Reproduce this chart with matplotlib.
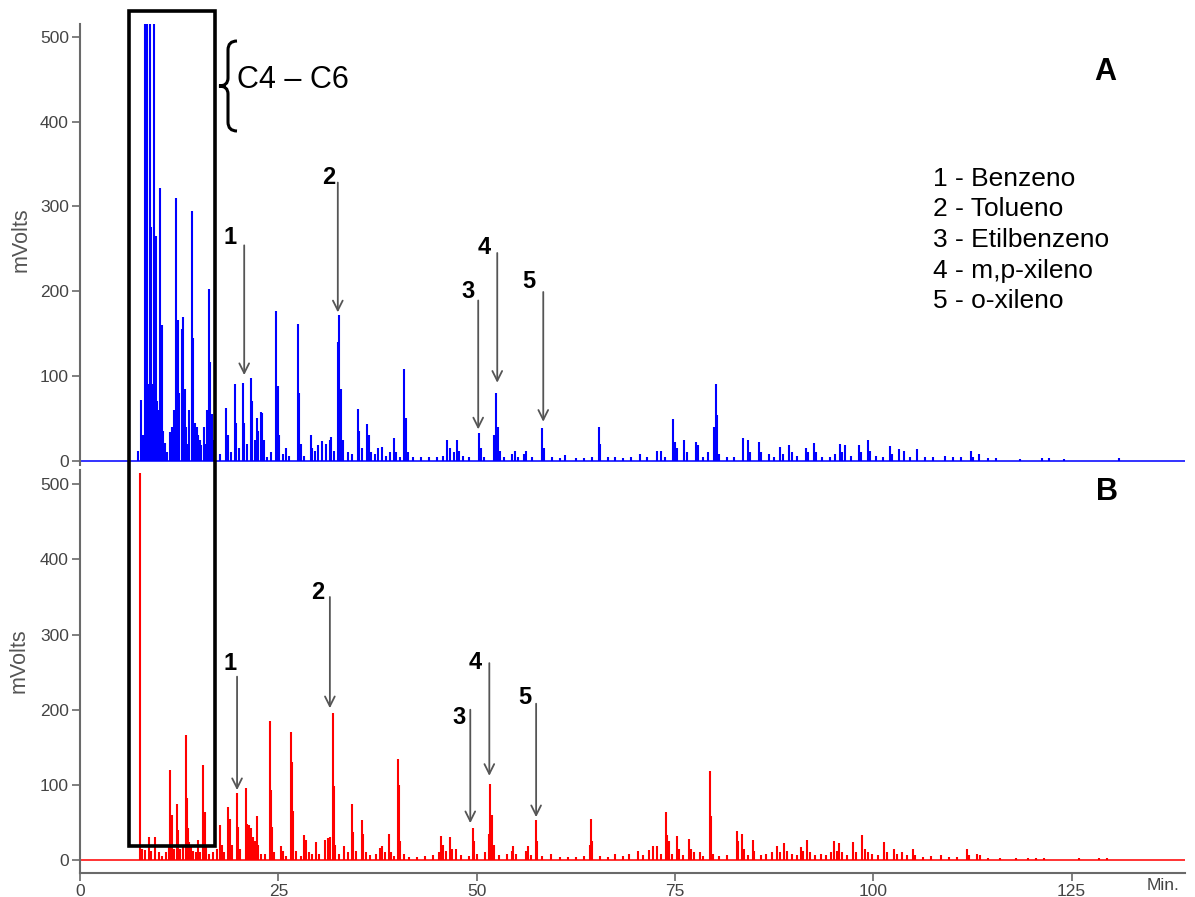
"""
Chromatogram of two samples (A, B) with marked BTEX peaks.
"""

import matplotlib
matplotlib.use("Agg")
import matplotlib.pyplot as plt
from matplotlib.patches import Rectangle, PathPatch
from matplotlib.path import Path

plt.rcParams["font.family"] = ["Liberation Sans", "DejaVu Sans"]

W, H = 1195, 897

# --- panel A peaks (retention time in min, height in mV) ---
A_TIMES = [7.3, 7.7, 7.9, 8.2, 8.3, 8.45, 8.6, 8.8, 8.9, 9.0, 9.15, 9.3, 9.4, 9.45,
           9.6, 9.75, 9.9, 10.1, 10.3, 10.5, 10.7, 11.0, 11.3, 11.6, 11.8, 12.1,
           12.3, 12.5, 12.8, 13.0, 13.2, 13.4, 13.6, 13.8, 14.1, 14.3, 14.5, 14.7,
           14.9, 15.1, 15.3, 15.6, 15.8, 16.0, 16.2, 16.4, 16.6, 16.8,
           17.6, 18.4, 18.6, 19.0, 19.5, 19.7, 20.0, 20.5, 20.7, 21.0, 21.5, 21.7,
           22.0, 22.3, 22.5, 22.8, 23.0, 23.2, 23.6, 24.1, 24.7, 24.9, 25.1, 25.6,
           26.0, 26.4, 27.45, 27.6, 27.8, 28.3, 29.1, 29.3, 29.6, 30.0, 30.5, 31.0,
           31.5, 31.7, 32.0, 32.5, 32.7, 32.9, 33.1, 33.8, 34.3, 35.0, 35.2, 35.5,
           36.2, 36.4, 36.7, 37.2, 37.6, 38.1, 38.6, 39.1, 39.6, 39.8, 40.3, 40.9,
           41.1, 41.4, 42.0, 43.0, 44.0, 45.0, 45.8, 46.3, 46.6, 47.1, 47.5, 47.8,
           48.3, 49.0, 50.3, 50.5, 50.9, 52.2, 52.5, 52.7, 53.0, 53.5, 54.5, 54.8,
           55.2, 56.0, 56.2, 57.0, 58.3, 58.5, 59.5, 60.5, 61.2, 62.5, 63.5, 64.5,
           65.4, 65.6, 66.5, 67.5, 68.5, 69.5, 70.6, 71.5, 72.8, 73.3, 73.8, 74.8,
           75.0, 75.3, 76.2, 76.5, 77.7, 77.9, 78.5, 79.2, 79.9, 80.2, 80.35, 80.6,
           81.5, 82.5, 83.6, 84.2, 84.5, 85.6, 85.9, 86.8, 87.5, 88.3, 88.6, 89.4,
           89.7, 90.4, 91.5, 91.8, 92.5, 92.8, 93.5, 94.5, 95.2, 95.8, 96.1, 96.4,
           97.2, 98.2, 98.5, 99.3, 99.6, 100.4, 101.2, 102.1, 102.4, 103.2, 103.9,
           104.6, 105.5, 106.5, 107.5, 109.0, 110.0, 111.0, 112.3, 112.6, 113.3,
           114.5, 115.5, 118.5, 121.3, 122.2, 124.0, 131.0]
A_HEIGHTS = [12, 72, 30, 600, 90, 600, 90, 600, 85, 276, 90, 600, 88, 90,
             265, 70, 60, 322, 160, 35, 21, 10, 34, 40, 60, 310,
             166, 80, 155, 169, 85, 40, 20, 60, 294, 145, 45, 40,
             30, 25, 18, 40, 20, 60, 202, 116, 55, 25,
             8, 62, 30, 10, 91, 45, 15, 92, 45, 20, 98, 70,
             25, 50, 35, 58, 56, 25, 5, 10, 176, 88, 30, 8,
             15, 6, 161, 80, 20, 6, 30, 15, 12, 18, 23, 20,
             24, 28, 12, 140, 172, 85, 25, 10, 8, 61, 35, 15,
             43, 30, 10, 8, 15, 16, 6, 10, 27, 10, 5, 108,
             50, 10, 5, 4, 5, 4, 6, 25, 15, 10, 24, 12,
             6, 4, 33, 15, 5, 30, 80, 40, 12, 5, 8, 12,
             5, 8, 12, 4, 39, 15, 4, 3, 7, 3, 3, 4,
             40, 20, 4, 5, 3, 4, 8, 5, 12, 12, 5, 49,
             22, 15, 25, 10, 22, 18, 5, 10, 40, 91, 54, 8,
             4, 5, 27, 25, 10, 22, 10, 8, 5, 16, 8, 19,
             10, 6, 15, 10, 21, 10, 5, 4, 8, 20, 10, 19,
             6, 19, 10, 25, 12, 6, 5, 17, 8, 14, 11,
             5, 14, 4, 5, 6, 4, 4, 12, 5, 8,
             3, 3, 2, 3, 3, 2, 3]

# --- panel B peaks ---
B_TIMES = [7.57, 7.8, 8.2, 8.7, 9.0, 9.5, 9.9, 10.4, 10.9, 11.2, 11.4, 11.55, 11.8,
           12.2, 12.35, 12.6, 13.0, 13.3, 13.45, 13.6, 13.8, 14.0, 14.3, 14.6, 14.9,
           15.1, 15.55, 15.7, 15.9, 16.2, 16.8, 17.3, 17.65, 17.9, 18.2, 18.7, 18.85,
           19.1, 19.75, 19.9, 20.2, 20.9, 21.05, 21.3, 21.5, 21.8, 22.0, 22.3, 22.5,
           22.8, 23.3, 23.9, 24.05, 24.2, 24.5, 25.3, 25.6, 26.0, 26.6, 26.75, 26.9,
           27.2, 27.8, 28.3, 28.5, 28.9, 29.3, 29.8, 30.1, 30.9, 31.3, 31.55, 31.85,
           32.0, 32.2, 32.7, 33.3, 33.8, 34.3, 34.45, 34.8, 35.5, 35.7, 36.0, 36.6,
           37.3, 37.8, 38.1, 38.4, 38.9, 39.2, 39.6, 40.1, 40.2, 40.4, 40.8, 41.5,
           42.5, 43.5, 44.5, 45.2, 45.5, 45.7, 46.2, 46.7, 46.9, 47.4, 48.0, 49.0,
           49.5, 49.7, 50.0, 51.0, 51.5, 51.7, 51.9, 52.2, 52.8, 53.8, 54.4, 54.6,
           55.0, 56.2, 56.5, 56.9, 57.45, 57.6, 58.2, 59.4, 60.5, 61.5, 62.5, 63.5,
           64.3, 64.4, 64.6, 65.5, 66.5, 67.5, 68.5, 69.2, 70.3, 71.0, 71.7, 72.2,
           72.8, 73.3, 73.9, 74.05, 74.3, 74.6, 75.3, 75.5, 76.0, 76.8, 77.0, 77.4,
           78.1, 78.6, 79.4, 79.5, 79.8, 80.5, 81.5, 82.8, 83.0, 83.4, 83.7, 84.2,
           84.8, 85.0, 85.8, 86.5, 87.2, 87.9, 88.2, 88.8, 89.1, 89.7, 90.4, 90.9,
           91.2, 91.7, 92.0, 92.6, 93.4, 94.0, 94.7, 95.1, 95.4, 95.7, 96.0, 96.7,
           97.5, 97.8, 98.6, 98.9, 99.3, 99.9, 100.6, 101.4, 101.7, 102.6, 103.0,
           103.6, 104.2, 105.0, 105.3, 106.3, 107.3, 108.5, 109.5, 110.5, 111.8,
           112.1, 113.1, 113.4, 114.5, 116.0, 118.0, 119.5, 120.5, 121.5, 126.0,
           128.5, 129.5]
B_HEIGHTS = [515, 15, 13, 30, 12, 30, 10, 5, 10, 20, 120, 60, 15,
             75, 40, 15, 20, 166, 82, 42, 24, 20, 12, 10, 27,
             10, 127, 64, 18, 8, 10, 15, 47, 20, 10, 71, 55,
             20, 89, 44, 15, 96, 48, 46, 42, 30, 25, 58, 20,
             8, 8, 185, 93, 44, 10, 18, 12, 5, 171, 130, 65,
             12, 5, 33, 27, 10, 8, 24, 8, 27, 29, 30, 195,
             98, 20, 8, 18, 10, 75, 37, 12, 53, 35, 10, 6,
             8, 16, 19, 10, 34, 10, 5, 134, 100, 25, 8, 4,
             4, 5, 6, 10, 32, 20, 12, 30, 15, 14, 6, 5,
             42, 25, 8, 10, 35, 101, 60, 20, 6, 8, 12, 18,
             8, 12, 18, 6, 53, 25, 5, 8, 4, 4, 4, 5,
             20, 54, 25, 5, 4, 8, 5, 8, 12, 6, 13, 18,
             18, 8, 64, 33, 25, 8, 32, 15, 6, 28, 15, 10,
             11, 5, 118, 58, 8, 5, 6, 38, 25, 35, 15, 6,
             27, 12, 6, 8, 10, 19, 10, 22, 12, 8, 6, 17,
             12, 27, 10, 6, 8, 6, 10, 25, 12, 22, 10, 6,
             24, 10, 33, 15, 10, 8, 6, 24, 10, 14, 8,
             10, 6, 15, 6, 4, 5, 6, 4, 4, 14,
             6, 8, 6, 3, 2, 2, 2, 3, 3, 3,
             2, 2]

# --- marked compounds ---
PEAK_IDS = ["1", "2", "3", "4", "5"]
COMPOUNDS = ["Benzeno", "Tolueno", "Etilbenzeno", "m,p-xileno", "o-xileno"]
A_MARK_T = [20.7, 32.5, 50.2, 52.6, 58.4]
A_MARK_TOP = [254, 328, 189, 245, 199]
A_MARK_TIP = [101, 175, 37, 92, 46]
B_MARK_T = [19.8, 31.5, 49.2, 51.6, 57.5]
B_MARK_TOP = [244, 350, 200, 262, 208]
B_MARK_TIP = [93, 202, 49, 112, 57]
A_LABEL_OFF = [(-14, 8), (-9, 5), (-10, 9), (-13, 5), (-14, 10)]
B_LABEL_OFF = [(-7, 13), (-12, 4), (-11, -8), (-14, 1), (-11, 6)]

X_TICKS = [0, 25, 50, 75, 100, 125]
Y_TICKS = [0, 100, 200, 300, 400, 500]
AX_GREY = "#6a6a6a"
TXT_GREY = "#444444"


def style_axis(ax, ylim):
    ax.set_xlim(0, 139.3)
    ax.set_ylim(*ylim)
    ax.set_yticks(Y_TICKS)
    for s in ["top", "right"]:
        ax.spines[s].set_visible(False)
    ax.spines["left"].set_color(AX_GREY)
    ax.spines["left"].set_linewidth(1.5)
    ax.spines["bottom"].set_color(AX_GREY)
    ax.spines["bottom"].set_linewidth(1.5)
    ax.tick_params(axis="both", colors=AX_GREY, length=6, width=1.2,
                   labelsize=12.5, labelcolor=TXT_GREY, pad=2)
    ax.set_ylabel("mVolts", fontsize=15.5, color="#555555")


def draw_peaks(ax, times, heights, colour):
    ax.axhline(0, color=colour, lw=1.4, alpha=0.8)
    ax.vlines(times, 0, heights, color=colour, lw=1.5)


def draw_marks(ax, ts, tops, tips, offs):
    for pid, t, top, tip, off in zip(PEAK_IDS, ts, tops, tips, offs):
        ax.annotate("", xy=(t, tip), xytext=(t, top),
                    arrowprops=dict(arrowstyle="->,head_length=0.7,head_width=0.35",
                                    color="#555555", lw=1.3, shrinkA=0, shrinkB=0))
        ax.annotate(pid, xy=(t, top), xytext=off, textcoords="offset pixels",
                    ha="center", va="center", fontsize=17, fontweight="bold")


fig = plt.figure(figsize=(W / 100, H / 100), dpi=100)
ax_a = fig.add_axes([80 / W, 1 - 465 / H, 1105 / W, 441 / H])
ax_b = fig.add_axes([80 / W, 1 - 873 / H, 1105 / W, 403 / H])

draw_peaks(ax_a, A_TIMES, A_HEIGHTS, "#0000ff")
style_axis(ax_a, (-5, 515))
ax_a.spines["bottom"].set_visible(False)
ax_a.set_xticks([])
ax_a.yaxis.set_label_coords(-0.044, 0.51)
draw_marks(ax_a, A_MARK_T, A_MARK_TOP, A_MARK_TIP, A_LABEL_OFF)

draw_peaks(ax_b, B_TIMES, B_HEIGHTS, "#ff0000")
style_axis(ax_b, (-17.3, 519))
ax_b.set_xticks(X_TICKS)
ax_b.yaxis.set_label_coords(-0.046, 0.528)
draw_marks(ax_b, B_MARK_T, B_MARK_TOP, B_MARK_TIP, B_LABEL_OFF)

fig.text(1163 / W, 1 - 885 / H, "Min.", ha="center", va="center",
         fontsize=12.5, color=TXT_GREY)

# panel letters and compound key
fig.text(1105 / W, 1 - 72 / H, "A", ha="center", va="center", fontsize=22, fontweight="bold")
fig.text(1107 / W, 1 - 492 / H, "B", ha="center", va="center", fontsize=22, fontweight="bold")
for i, (pid, name) in enumerate(zip(PEAK_IDS, COMPOUNDS)):
    fig.text(933 / W, 1 - (179 + 30.5 * i) / H, f"{pid} - {name}",
             ha="left", va="center", fontsize=19)

# C4-C6 region box and brace
fig.add_artist(Rectangle((128.5 / W, 1 - 846 / H), 86.5 / W, 835 / H,
                         transform=fig.transFigure, fill=False,
                         edgecolor="black", lw=2.6))
brace_px = [(237, 41), (228, 41), (228, 50), (228, 78), (228, 86), (219, 86),
            (228, 86), (228, 94), (228, 122), (228, 131), (237, 131)]
codes = [Path.MOVETO, Path.CURVE3, Path.CURVE3, Path.LINETO, Path.CURVE3, Path.CURVE3,
         Path.CURVE3, Path.CURVE3, Path.LINETO, Path.CURVE3, Path.CURVE3]
verts = [(x / W, 1 - y / H) for x, y in brace_px]
fig.add_artist(PathPatch(Path(verts, codes), transform=fig.transFigure,
                         fill=False, edgecolor="black", lw=2.2))
fig.text(237 / W, 1 - 80 / H, "C4 – C6", ha="left", va="center", fontsize=22)

fig.savefig("out.png", dpi=100)
